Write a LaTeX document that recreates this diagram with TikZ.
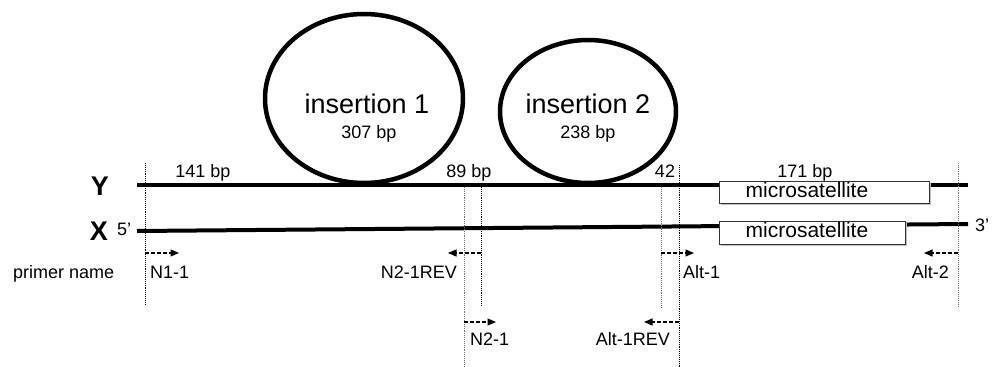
\documentclass[tikz,border=0pt]{standalone}
\usepackage{fontspec}
\setmainfont{Liberation Sans}
\usetikzlibrary{shapes.geometric,arrows.meta}

\begin{document}
\begin{tikzpicture}[x=1pt,y=-1pt,
  strand/.style={line width=4pt},
  loopshape/.style={draw, ellipse, line width=4.5pt, inner sep=0pt},
  guide/.style={densely dotted, line width=0.9pt},
  guidegray/.style={guide, draw=black!55},
  primer/.style={dash pattern=on 4pt off 2pt, line width=1.2pt,
    -{Triangle[length=8.5pt,width=7pt]}},
  lbl/.style={font=\fontsize{18}{20}\selectfont, inner sep=0pt},
  big/.style={font=\fontsize{27}{30}\selectfont, inner sep=0pt},
  end/.style={font=\fontsize{18}{20}\selectfont, inner sep=0pt},
  chain/.style={font=\fontsize{27}{29}\selectfont\bfseries, inner sep=0pt},
  msbox/.style={draw=black!80, line width=1pt, fill=white, inner sep=0pt},
  msshadow/.style={fill=black!25, inner sep=0pt, draw=none},
  mstext/.style={font=\fontsize{21}{23}\selectfont, inner sep=0pt}
]
\useasboundingbox (0,0) rectangle (997,367);

% strand ends
\coordinate (Yl) at (137,185);
\coordinate (Yr) at (968,185);
\coordinate (Xl) at (137,231);
\coordinate (Xr) at (968,224);

% the two chromosome strands
\draw[strand] (Yl) -- (Yr);
\draw[strand] (Xl) -- (Xr);

% insertion loops on strand Y
\node[loopshape, minimum width=198pt, minimum height=169pt] (ins1) at (364,98.5) {};
\node[loopshape, minimum width=176pt, minimum height=143pt] (ins2) at (588,111.5) {};
\node[big, anchor=base] (ins1t) at (367,113) {insertion 1};
\node[lbl, anchor=base] (ins1s) at (369,138) {307 bp};
\node[big, anchor=base] (ins2t) at (588,113) {insertion 2};
\node[lbl, anchor=base] (ins2s) at (588,138) {238 bp};

% microsatellite blocks
\node[msshadow, minimum width=210pt, minimum height=22pt] at (826,194) {};
\node[msbox, minimum width=210pt, minimum height=22pt] (msY) at (824,192) {};
\node[mstext, anchor=base] (msYt) at (807,197) {microsatellite};
\node[msshadow, minimum width=186pt, minimum height=23pt] at (814,234.5) {};
\node[msbox, minimum width=186pt, minimum height=23pt] (msX) at (812,232.5) {};
\node[mstext, anchor=base] (msXt) at (807,237) {microsatellite};

% strand names and ends
\node[chain, anchor=base] (Y) at (100,195) {Y};
\node[chain, anchor=base] (X) at (99,240) {X};
\node[end, anchor=base west] (five) at (117,235) {5’};
\node[end, anchor=base west] (three) at (975,231) {3’};

% segment lengths
\node[lbl, anchor=base] (l141) at (203,177) {141 bp};
\node[lbl, anchor=base] (l89) at (469,177) {89 bp};
\node[lbl, anchor=base] (l42) at (665,177) {42};
\node[lbl, anchor=base] (l171) at (805,177) {171 bp};

% primer position guides
\coordinate (g1t) at (145,163);  \coordinate (g1b) at (145,305);
\coordinate (g2t) at (464,187);  \coordinate (g2b) at (464,367);
\coordinate (g3t) at (481,187);  \coordinate (g3b) at (481,305);
\coordinate (g4t) at (661,187);  \coordinate (g4b) at (661,307);
\coordinate (g5t) at (679,165);  \coordinate (g5b) at (679,367);
\coordinate (g6t) at (958,163);  \coordinate (g6b) at (958,307);
\draw[guide] (g1t) -- (g1b);
\draw[guidegray] (g2t) -- (g2b);
\draw[guide] (g3t) -- (g3b);
\draw[guidegray] (g4t) -- (g4b);
\draw[guide] (g5t) -- (g5b);
\draw[guidegray] (g6t) -- (g6b);

% primer directions
\coordinate (p1s) at (145,253); \coordinate (p1e) at (179,253);
\coordinate (p2s) at (481,253); \coordinate (p2e) at (448,253);
\coordinate (p3s) at (661,253); \coordinate (p3e) at (694,253);
\coordinate (p4s) at (958,253); \coordinate (p4e) at (924,253);
\coordinate (p5s) at (464,322); \coordinate (p5e) at (496,322);
\coordinate (p6s) at (679,322); \coordinate (p6e) at (644,322);
\draw[primer] (p1s) -- (p1e);
\draw[primer] (p2s) -- (p2e);
\draw[primer] (p3s) -- (p3e);
\draw[primer] (p4s) -- (p4e);
\draw[primer] (p5s) -- (p5e);
\draw[primer] (p6s) -- (p6e);

% primer names
\node[lbl, anchor=base west] (pn) at (13,278) {primer name};
\node[lbl, anchor=base west] (n11) at (150,278) {N1-1};
\node[lbl, anchor=base east] (n21rev) at (457,278) {N2-1REV};
\node[lbl, anchor=base west] (alt1) at (683,278) {Alt-1};
\node[lbl, anchor=base east] (alt2) at (949,278) {Alt-2};
\node[lbl, anchor=base west] (n21) at (470,345) {N2-1};
\node[lbl, anchor=base east] (alt1rev) at (670,345) {Alt-1REV};
\end{tikzpicture}
\end{document}
